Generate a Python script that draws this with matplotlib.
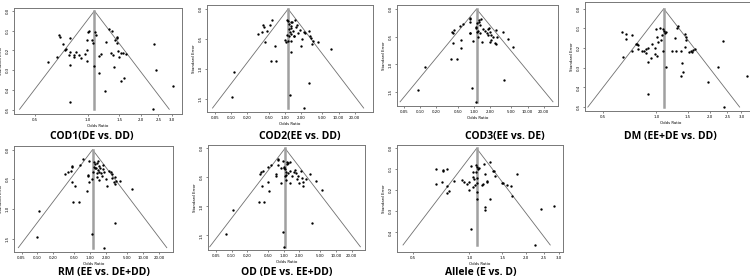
import numpy as np
import matplotlib
matplotlib.use("Agg")
import matplotlib.pyplot as plt

# funnel plots: odds ratio (x, log) vs standard error (y, inverted)

cod1_or = [0.688, 0.697, 0.719, 0.751, 0.744, 0.794, 0.791, 0.829, 0.780, 0.833, 0.855, 0.885, 0.909,
           0.962, 0.996, 1.013, 0.991, 0.983, 0.991, 1.054, 1.063, 1.091, 1.115, 1.081, 1.154, 1.180,
           1.159, 1.254, 1.265, 1.315, 1.362, 1.350, 1.380, 1.398, 1.429, 1.453, 1.460, 1.460, 1.485,
           1.498, 1.545, 1.572, 1.538, 1.599, 1.642, 2.355, 2.417, 3.04, 2.345, 0.787, 0.591, 0.670, 0.791]
cod1_se = [0.120, 0.132, 0.169, 0.192, 0.199, 0.139, 0.209, 0.221, 0.222, 0.234, 0.206, 0.222, 0.239,
           0.219, 0.105, 0.102, 0.149, 0.199, 0.256, 0.149, 0.164, 0.107, 0.122, 0.279, 0.229, 0.217,
           0.316, 0.408, 0.156, 0.092, 0.100, 0.212, 0.221, 0.283, 0.149, 0.132, 0.139, 0.162, 0.201,
           0.232, 0.212, 0.212, 0.356, 0.341, 0.216, 0.167, 0.299, 0.381, 0.498, 0.460, 0.259, 0.234, 0.276]

cod2_or = [0.582, 0.534, 0.396, 0.401, 0.470, 0.315, 0.368, 0.425, 0.652, 0.549, 0.671, 0.111, 0.102,
           1.074, 1.153, 1.293, 1.187, 1.369, 1.556, 1.719, 1.293, 1.330, 1.187, 1.408, 1.239, 1.275,
           1.074, 1.187, 1.153, 1.044, 1.293, 1.470, 1.513, 1.770, 2.255, 2.353, 2.833, 3.00, 3.13,
           3.41, 3.27, 4.17, 2.07, 2.04, 1.311, 7.26, 2.833, 1.256, 2.32, 1.60, 1.90, 1.00]
cod2_se = [0.181, 0.264, 0.275, 0.302, 0.363, 0.418, 0.390, 0.549, 0.621, 0.874, 0.874, 1.044, 1.467,
           0.181, 0.209, 0.225, 0.253, 0.225, 0.181, 0.275, 0.291, 0.313, 0.335, 0.368, 0.385, 0.418,
           0.440, 0.456, 0.538, 0.555, 0.527, 0.456, 0.445, 0.401, 0.379, 0.396, 0.363, 0.445, 0.489,
           0.527, 0.582, 0.555, 0.495, 0.621, 0.714, 0.676, 1.242, 1.429, 1.654, 0.302, 0.346, 0.511]

cod3_or = [0.122, 0.0894, 0.373, 0.476, 0.412, 0.565, 0.581, 0.401, 0.395, 0.424, 0.549, 0.633, 0.830,
           0.843, 0.855, 0.830, 0.855, 0.958, 0.918, 1.074, 1.105, 1.153, 1.239, 1.239, 1.293, 1.204,
           1.153, 1.275, 1.187, 1.409, 1.45, 1.60, 1.77, 1.85, 1.875, 1.985, 2.07, 2.07, 2.04, 2.23,
           2.43, 2.57, 2.68, 2.57, 3.42, 4.29, 5.47, 3.62, 1.09, 1.35, 1.85]
cod3_se = [1.042, 1.464, 0.904, 0.910, 0.620, 0.560, 0.711, 0.428, 0.410, 0.380, 0.307, 0.271, 0.229,
           0.187, 0.157, 0.440, 0.428, 0.578, 1.422, 1.675, 0.319, 0.259, 0.199, 0.235, 0.289, 0.398,
           0.410, 0.440, 0.512, 0.590, 0.367, 0.392, 0.440, 0.355, 0.337, 0.410, 0.476, 0.560, 0.596,
           0.512, 0.608, 0.380, 0.512, 0.639, 0.410, 0.542, 0.693, 1.283, 0.349, 0.175, 0.464]

dm_or = [0.643, 0.677, 0.672, 0.726, 0.729, 0.768, 0.778, 0.788, 0.785, 0.830, 0.856, 0.871, 0.878,
         0.929, 0.901, 0.893, 0.941, 0.983, 1.000, 1.044, 1.009, 1.017, 1.063, 1.081, 1.086, 1.100,
         1.090, 1.129, 1.114, 1.139, 1.009, 0.979, 0.897, 0.649, 1.308, 1.325, 1.280, 1.220, 1.285,
         1.377, 1.439, 1.470, 1.457, 1.439, 1.515, 1.555, 1.596, 1.652, 1.590, 1.384, 1.402, 1.377,
         1.939, 2.228, 2.356, 3.22, 2.397]
dm_se = [0.117, 0.128, 0.156, 0.133, 0.213, 0.181, 0.178, 0.186, 0.206, 0.215, 0.215, 0.206, 0.227,
         0.250, 0.272, 0.201, 0.178, 0.201, 0.102, 0.099, 0.143, 0.168, 0.161, 0.134, 0.215, 0.112,
         0.102, 0.119, 0.126, 0.294, 0.243, 0.230, 0.433, 0.247, 0.096, 0.087, 0.151, 0.213, 0.213,
         0.213, 0.129, 0.143, 0.159, 0.193, 0.218, 0.216, 0.211, 0.206, 0.218, 0.277, 0.320, 0.341,
         0.372, 0.294, 0.164, 0.342, 0.500]

rm_or = [0.097, 0.109, 0.337, 0.373, 0.425, 0.451, 0.457, 0.638, 0.738, 0.930, 0.444, 0.513, 0.471,
         0.611, 0.865, 0.891, 0.917, 0.957, 1.06, 1.075, 1.173, 1.225, 1.19, 1.225, 1.317, 1.375,
         1.298, 1.416, 1.437, 1.50, 1.479, 1.59, 1.66, 1.356, 1.458, 1.735, 1.81, 1.976, 2.125,
         2.284, 2.457, 2.565, 2.64, 2.92, 2.80, 2.92, 3.14, 3.63, 6.30, 2.92, 1.786, 1.139, 1.317, 1.71]
rm_se = [1.466, 1.039, 0.410, 0.376, 0.354, 0.287, 0.270, 0.258, 0.157, 0.197, 0.545, 0.618, 0.876,
         0.876, 0.697, 0.421, 0.438, 0.539, 0.494, 1.427, 0.202, 0.242, 0.287, 0.309, 0.230, 0.185,
         0.303, 0.343, 0.270, 0.315, 0.376, 0.399, 0.438, 0.455, 0.517, 0.331, 0.376, 0.500, 0.612,
         0.360, 0.371, 0.410, 0.483, 0.455, 0.551, 0.579, 0.534, 0.522, 0.663, 1.242, 1.652, 0.371,
         0.399, 0.258]

od_or = [0.0785, 0.105, 0.332, 0.426, 0.390, 0.357, 0.373, 0.396, 0.516, 0.508, 0.508, 0.580, 0.703,
         0.713, 0.767, 0.790, 0.767, 0.889, 0.985, 1.015, 1.000, 1.06, 1.108, 1.158, 1.158, 1.193,
         1.108, 1.092, 0.957, 1.000, 1.229, 1.342, 1.342, 1.342, 1.423, 1.555, 1.673, 1.749, 1.827,
         1.91, 1.967, 2.148, 2.279, 2.347, 2.347, 2.678, 3.24, 4.10, 5.35, 3.44, 0.889, 1.06]
od_se = [1.483, 1.063, 0.925, 0.925, 0.644, 0.448, 0.408, 0.391, 0.730, 0.575, 0.316, 0.287, 0.448,
         0.477, 0.201, 0.184, 0.287, 0.592, 0.218, 0.316, 0.345, 0.362, 0.402, 0.276, 0.230, 0.247,
         0.454, 0.546, 1.437, 1.695, 0.420, 0.230, 0.391, 0.603, 0.477, 0.408, 0.368, 0.431, 0.534,
         0.477, 0.592, 0.391, 0.517, 0.644, 0.575, 0.534, 0.443, 0.563, 0.718, 1.293, 0.333, 0.477]

allele_or = [0.665, 0.665, 0.715, 0.725, 0.725, 0.757, 0.764, 0.761, 0.776, 0.829, 0.914, 0.933, 0.968,
             0.996, 0.992, 1.021, 1.042, 1.046, 1.050, 1.063, 1.067, 1.081, 1.098, 1.090, 1.103, 1.098,
             1.094, 1.107, 1.130, 1.163, 1.187, 1.207, 1.197, 1.212, 1.212, 1.236, 1.240, 1.283, 1.288,
             1.021, 1.342, 1.358, 1.369, 1.486, 1.504, 1.579, 1.672, 1.679, 1.793, 2.395, 2.81, 2.226, 1.094]
allele_se = [0.098, 0.168, 0.162, 0.105, 0.110, 0.100, 0.178, 0.211, 0.202, 0.156, 0.149, 0.159, 0.171,
             0.162, 0.198, 0.083, 0.114, 0.135, 0.186, 0.148, 0.173, 0.079, 0.087, 0.113, 0.140, 0.165,
             0.241, 0.098, 0.095, 0.176, 0.168, 0.121, 0.075, 0.278, 0.294, 0.162, 0.154, 0.067, 0.241,
             0.384, 0.106, 0.108, 0.130, 0.163, 0.167, 0.175, 0.178, 0.225, 0.122, 0.287, 0.273, 0.460, 0.206]

# pooled odds ratios (apex of each funnel)
pooled = {"cod1": 1.086, "cod2": 1.15, "cod3": 1.12, "dm": 1.10, "rm": 1.107, "od": 1.06, "allele": 1.094}

titles = ["COD1(DE vs. DD)", "COD2(EE vs. DD)", "COD3(EE vs. DE)", "DM (EE+DE vs. DD)",
          "RM (EE vs. DE+DD)", "OD (DE vs. EE+DD)", "Allele (E vs. D)"]

small_xt = [0.5, 1.0, 1.5, 2.0, 2.5, 3.0]
small_xl = ["0.5", "1.0", "1.5", "2.0", "2.5", "3.0"]
wide_xt = [0.05, 0.10, 0.20, 0.50, 1.00, 2.00, 5.00, 10.00, 20.00]
wide_xl = ["0.05", "0.10", "0.20", "0.50", "1.00", "2.00", "5.00", "10.00", "20.00"]

W, H = 750, 280
fig = plt.figure(figsize=(7.5, 2.8), dpi=100)


def rect(x0, x1, y0, y1):
    return [x0 / W, 1 - y1 / H, (x1 - x0) / W, (y1 - y0) / H]


def funnel(box, ors, ses, p, xlim, ylim, xt, xl, yt, title, tpos):
    ax = fig.add_axes(rect(*box))
    semax = max(ses)
    z = 1.96
    ax.plot([p * np.exp(-z * semax), p, p * np.exp(z * semax)], [semax, 0, semax],
            color="#6f6f6f", lw=0.6)
    ax.plot([p, p], [0, semax], color="#a0a0a0", lw=1.8)
    ax.plot(ors, ses, "o", color="black", ms=1.7, mew=0)
    ax.set_xscale("log")
    ax.set_xlim(*xlim)
    ax.set_ylim(ylim[1], ylim[0])
    ax.set_xticks(xt)
    ax.set_xticklabels(xl)
    ax.minorticks_off()
    ax.set_yticks(yt)
    ax.set_yticklabels(["%.1f" % v for v in yt], rotation=90, va="center")
    ax.tick_params(length=1.5, width=0.5, labelsize=2.8, pad=1.5, color="#555555")
    ax.set_xlabel("Odds Ratio", fontsize=2.8, labelpad=1.5)
    ax.set_ylabel("Standard Error", fontsize=2.8, labelpad=2)
    for s in ax.spines.values():
        s.set_linewidth(0.7)
        s.set_color("#777777")
    fig.text(tpos[0] / W, 1 - tpos[1] / H, title, fontsize=7.5, fontweight="bold",
             family="Open Sans", ha="center", va="center")
    return ax


funnel((14.3, 181.7, 8.3, 114), cod1_or, cod1_se, pooled["cod1"], (0.382, 3.39), (-0.013, 0.522),
       small_xt, small_xl, [0.0, 0.1, 0.2, 0.3, 0.4, 0.5], titles[0], (92, 137))
funnel((206.7, 373, 5, 112), cod2_or, cod2_se, pooled["cod2"], (0.035, 43.9), (-0.066, 1.72),
       wide_xt, wide_xl, [0.0, 0.5, 1.0, 1.5], titles[1], (300, 137))
funnel((396.7, 558, 5, 106), cod3_or, cod3_se, pooled["cod3"], (0.0364, 37), (-0.072, 1.75),
       wide_xt, wide_xl, [0.0, 0.5, 1.0, 1.5], titles[2], (505, 137))
funnel((585, 756, 2, 111), dm_or, dm_se, pooled["dm"], (0.398, 3.62), (-0.034, 0.52),
       small_xt, small_xl, [0.0, 0.1, 0.2, 0.3, 0.4, 0.5], titles[3], (670, 137))
funnel((14, 173, 145.7, 251.7), rm_or, rm_se, pooled["rm"], (0.036, 37), (-0.067, 1.72),
       wide_xt, wide_xl, [0.0, 0.5, 1.0, 1.5], titles[4], (104, 273))
funnel((207.7, 365, 145, 250), od_or, od_se, pooled["od"], (0.035, 36), (-0.057, 1.75),
       wide_xt, wide_xl, [0.0, 0.5, 1.0, 1.5], titles[5], (287, 273))
funnel((396.7, 562.7, 145, 251.7), allele_or, allele_se, pooled["allele"], (0.411, 3.14), (-0.016, 0.492),
       small_xt, small_xl, [0.0, 0.1, 0.2, 0.3, 0.4], titles[6], (481, 273))

fig.savefig("out.png", dpi=100)
